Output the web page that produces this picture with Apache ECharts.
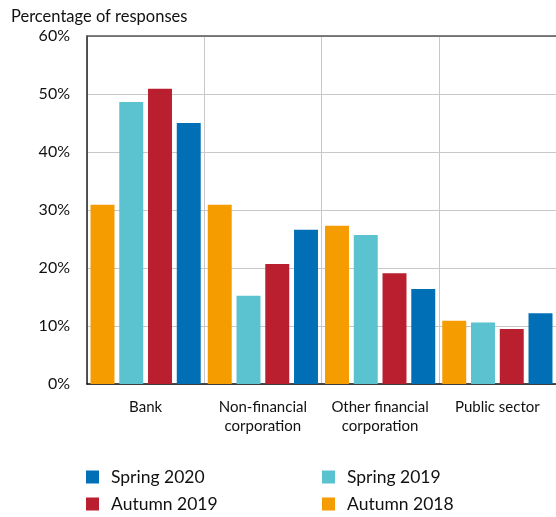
<!DOCTYPE html>
<html>
<head>
<meta charset="utf-8">
<script src="https://cdn.jsdelivr.net/npm/echarts@6/dist/echarts.min.js"></script>
<style>
  html, body { margin: 0; padding: 0; background: #fff; }
  #chart { width: 556px; height: 517px; }
</style>
</head>
<body>
<div id="chart"></div>
<script>
// Respondent sectors and survey rounds
const categories = ['Bank', 'Non-financial\ncorporation', 'Other financial\ncorporation', 'Public sector'];
const autumn2018 = [30.9, 30.9, 27.3, 10.9];
const spring2019 = [48.6, 15.2, 25.7, 10.6];
const autumn2019 = [50.9, 20.7, 19.1, 9.5];
const spring2020 = [45.0, 26.6, 16.4, 12.2];
const yTicks = [0, 10, 20, 30, 40, 50, 60];

const FONT = 'Lato';
const colors = {
  'Autumn 2018': '#F59C00',
  'Spring 2019': '#5BC2CF',
  'Autumn 2019': '#B91F2E',
  'Spring 2020': '#006FB6'
};

function barSeries(name, values) {
  return {
    name: name,
    type: 'bar',
    data: values,
    barGap: '20%',
    barCategoryGap: '6%',
    itemStyle: { color: colors[name] }
  };
}

// One legend entry per block so the 2x2 layout can be placed exactly
function legendAt(name, left, top) {
  return {
    data: [name],
    left: left,
    top: top,
    padding: 0,
    itemWidth: 13,
    itemHeight: 13,
    icon: 'rect',
    selectedMode: false,
    textStyle: { fontFamily: FONT, fontSize: 17.5, color: '#111', lineHeight: 20, padding: [0, 0, 0, 7] }
  };
}

const chart = echarts.init(document.getElementById('chart'));
chart.setOption({
  animation: false,
  title: {
    text: 'Percentage of responses',
    left: 6,
    top: 3,
    textStyle: { fontFamily: FONT, fontSize: 16.5, fontWeight: 'normal', color: '#111' }
  },
  legend: [
    legendAt('Spring 2020', 86, 467),
    legendAt('Autumn 2019', 86, 494),
    legendAt('Spring 2019', 322, 467),
    legendAt('Autumn 2018', 322, 494)
  ],
  grid: { left: 87, right: 0, top: 36, bottom: 133 },
  xAxis: [{
    type: 'category',
    data: categories,
    axisLine: { lineStyle: { color: '#111', width: 1.5 } },
    axisTick: { show: false },
    axisLabel: { interval: 0, fontFamily: FONT, fontSize: 15, color: '#111', margin: 14, lineHeight: 19 },
    splitLine: { show: true, interval: 0, lineStyle: { color: '#c8c8c8', width: 1 } }
  }, {
    type: 'category',
    position: 'top',
    data: categories,
    axisLine: { show: true, lineStyle: { color: '#555', width: 1.5 } },
    axisTick: { show: false },
    axisLabel: { show: false }
  }],
  yAxis: {
    type: 'value',
    min: yTicks[0],
    max: yTicks[yTicks.length - 1],
    interval: 10,
    axisLine: { show: true, lineStyle: { color: '#222', width: 1.5 } },
    axisTick: { show: false },
    axisLabel: { fontFamily: FONT, fontSize: 16, color: '#111', margin: 17, formatter: '{value}%' },
    splitLine: { lineStyle: { color: '#c8c8c8', width: 1 } }
  },
  series: [
    barSeries('Autumn 2018', autumn2018),
    barSeries('Spring 2019', spring2019),
    barSeries('Autumn 2019', autumn2019),
    barSeries('Spring 2020', spring2020)
  ]
});
</script>
</body>
</html>
